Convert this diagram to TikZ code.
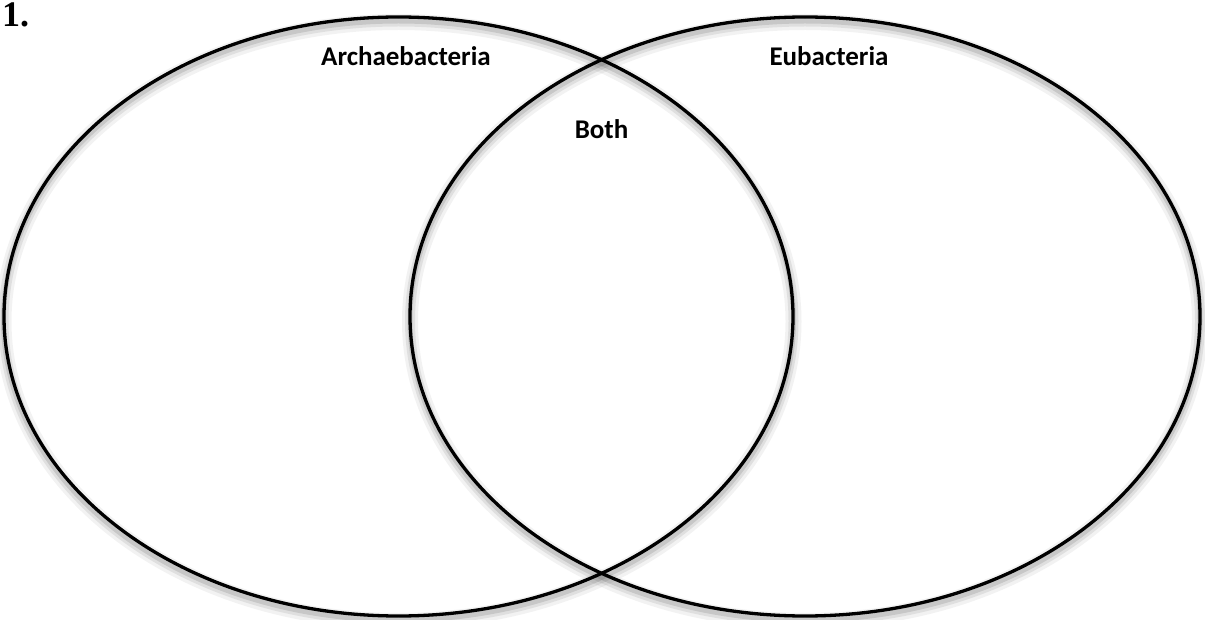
\documentclass[tikz,border=0pt]{standalone}
\usepackage{fontspec}
\setmainfont{Carlito}
\newfontfamily\numfont{Liberation Serif}
\begin{document}
\begin{tikzpicture}[x=1pt,y=-1pt,
  ring/.style={draw=black,line width=3.3pt},
  shade1/.style={draw=black,line width=16pt,opacity=0.05},
  shade2/.style={draw=black,line width=10pt,opacity=0.08},
  shade3/.style={draw=black,line width=5pt,opacity=0.11},
  lbl/.style={font=\fontsize{27}{30}\selectfont\bfseries,inner sep=0pt}]
\useasboundingbox (0,0) rectangle (1205,620);
% shadows
\foreach \cx in {398.5,805}{
  \draw[shade1] (\cx,321.5) ellipse [x radius=395, y radius=299.5];
  \draw[shade2] (\cx,321) ellipse [x radius=395, y radius=299.5];
  \draw[shade3] (\cx,320.5) ellipse [x radius=395, y radius=299.5];
}
\draw[ring] (398.5,316.5) ellipse [x radius=394.5, y radius=299.5];
\draw[ring] (805,316.5) ellipse [x radius=395, y radius=299.5];
\node[lbl] (arch) at (406,56) {Archaebacteria};
\node[lbl] (eub) at (829,56) {Eubacteria};
\node[lbl] (both) at (601.5,129) {Both};
\node[font=\numfont\fontsize{36}{40}\selectfont\bfseries,anchor=north west,inner sep=0pt] (num) at (2,3) {1.};
\end{tikzpicture}
\end{document}
